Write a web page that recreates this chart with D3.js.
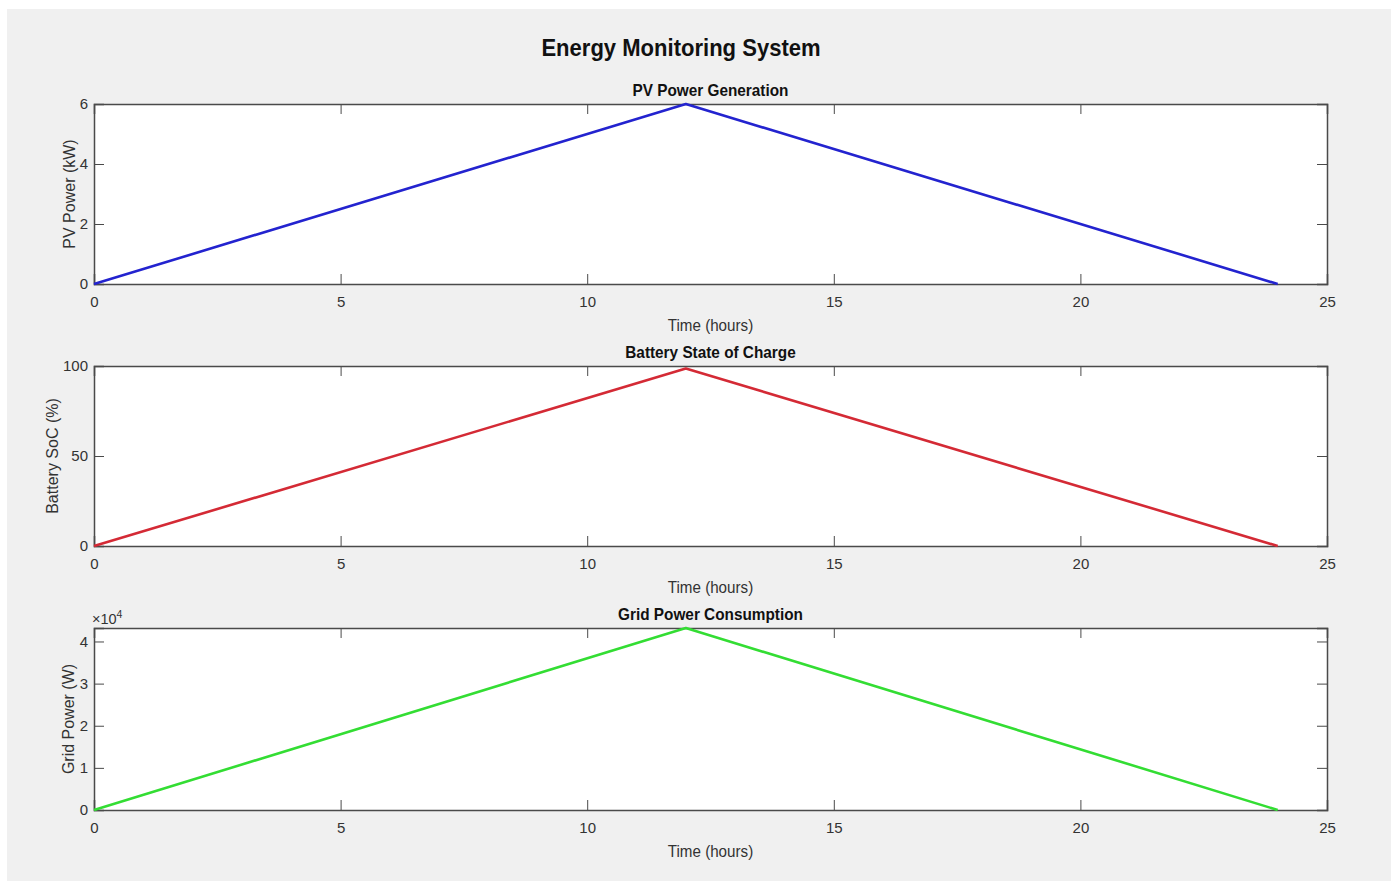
<!DOCTYPE html>
<html><head><meta charset="utf-8">
<script src="https://cdn.jsdelivr.net/npm/d3@7"></script>
<style>
html,body{margin:0;padding:0;background:#fff;}
svg{display:block;}
text{font-family:"Liberation Sans",Arial,Helvetica,sans-serif;}
</style></head>
<body>
<svg id="chart" width="1391" height="881"></svg>
<script>
// Data
const timeHours = [0, 12, 24];
const pvPower = [0, 6, 0];            // kW
const batterySoC = [0, 98.6, 0];      // %
const gridPower = [0, 43200, 0];      // W

const xTicks = [0, 5, 10, 15, 20, 25];
const pvTicks = [0, 2, 4, 6];
const socTicks = [0, 50, 100];
const gridTicks = [0, 1, 2, 3, 4];     // x10^4

const panels = [
  {title: "PV Power Generation", ylabel: "PV Power (kW)", values: pvPower, ymax: 6, ticks: pvTicks, scale: 1, color: "#2323cf", top: 104, bottom: 284, labelX: 75},
  {title: "Battery State of Charge", ylabel: "Battery SoC (%)", values: batterySoC, ymax: 100, ticks: socTicks, scale: 1, color: "#d42a35", top: 366, bottom: 546, labelX: 58},
  {title: "Grid Power Consumption", ylabel: "Grid Power (W)", values: gridPower, ymax: 43200, ticks: gridTicks, scale: 1e4, color: "#33dd33", top: 628, bottom: 810, labelX: 74, exponent: true}
];

const svg = d3.select("#chart");
svg.append("rect").attr("x", 7).attr("y", 9).attr("width", 1384).attr("height", 872).attr("fill", "#f0f0f0");

svg.append("text").attr("x", 681).attr("y", 56).attr("text-anchor", "middle")
  .attr("font-size", 24.5).attr("font-weight", "bold").attr("fill", "#111")
  .attr("transform", "translate(681,0) scale(0.9,1) translate(-681,0)")
  .text("Energy Monitoring System");

const left = 94, right = 1327;
const axisColor = "#4a4a4a", textColor = "#333";

panels.forEach(p => {
  const x = d3.scaleLinear().domain([0, 25]).range([left, right]);
  const y = d3.scaleLinear().domain([0, p.ymax]).range([p.bottom, p.top]);
  const g = svg.append("g");
  g.append("rect").attr("x", left).attr("y", p.top).attr("width", right - left).attr("height", p.bottom - p.top).attr("fill", "#fff");

  // axes with inward ticks
  const xb = d3.axisBottom(x).tickValues(xTicks).tickSize(-10).tickPadding(12).tickFormat(d3.format("d"));
  const xt = d3.axisTop(x).tickValues(xTicks).tickSize(-10).tickFormat("");
  const yl = d3.axisLeft(y).tickValues(p.ticks.map(t => t * p.scale)).tickSize(-10).tickPadding(6).tickFormat(d => d3.format("d")(d / p.scale));
  const yr = d3.axisRight(y).tickValues(p.ticks.map(t => t * p.scale)).tickSize(-10).tickFormat("");

  [ [xb, `translate(0,${p.bottom})`], [xt, `translate(0,${p.top})`], [yl, `translate(${left},0)`], [yr, `translate(${right},0)`] ].forEach(([ax, tr]) => {
    const a = g.append("g").attr("transform", tr).call(ax);
    a.select(".domain").attr("stroke", axisColor).attr("stroke-width", 1.5);
    a.selectAll(".tick line").attr("stroke", axisColor).attr("stroke-width", 1);
    a.selectAll("text").attr("font-size", 15).attr("fill", textColor).attr("font-family", '"Liberation Sans",Arial,sans-serif');
  });

  const line = d3.line().x((d, i) => x(timeHours[i])).y(d => y(d));
  g.append("path").datum(p.values).attr("d", line).attr("fill", "none")
    .attr("stroke", p.color).attr("stroke-width", 2.6).attr("stroke-linejoin", "round");

  // title
  const cx = (left + right) / 2;
  g.append("text").attr("x", cx).attr("y", p.top - 8).attr("text-anchor", "middle")
    .attr("font-size", 16.5).attr("font-weight", "bold").attr("fill", "#111")
    .attr("transform", `translate(${cx},0) scale(0.93,1) translate(${-cx},0)`)
    .text(p.title);
  // xlabel
  g.append("text").attr("x", cx).attr("y", p.bottom + 47).attr("text-anchor", "middle")
    .attr("font-size", 16.5).attr("fill", textColor)
    .attr("transform", `translate(${cx},0) scale(0.92,1) translate(${-cx},0)`)
    .text("Time (hours)");
  // ylabel
  const cy = (p.top + p.bottom) / 2;
  g.append("text").attr("transform", `translate(${p.labelX},${cy}) rotate(-90)`)
    .attr("text-anchor", "middle").attr("font-size", 16).attr("fill", textColor)
    .text(p.ylabel);
  if (p.exponent) {
    const t = g.append("text").attr("x", left - 2).attr("y", p.top - 4).attr("font-size", 14.5).attr("fill", textColor);
    t.append("tspan").text("×10");
    t.append("tspan").attr("dy", -6).attr("font-size", 10.5).text("4");
  }
});
</script>
</body></html>
